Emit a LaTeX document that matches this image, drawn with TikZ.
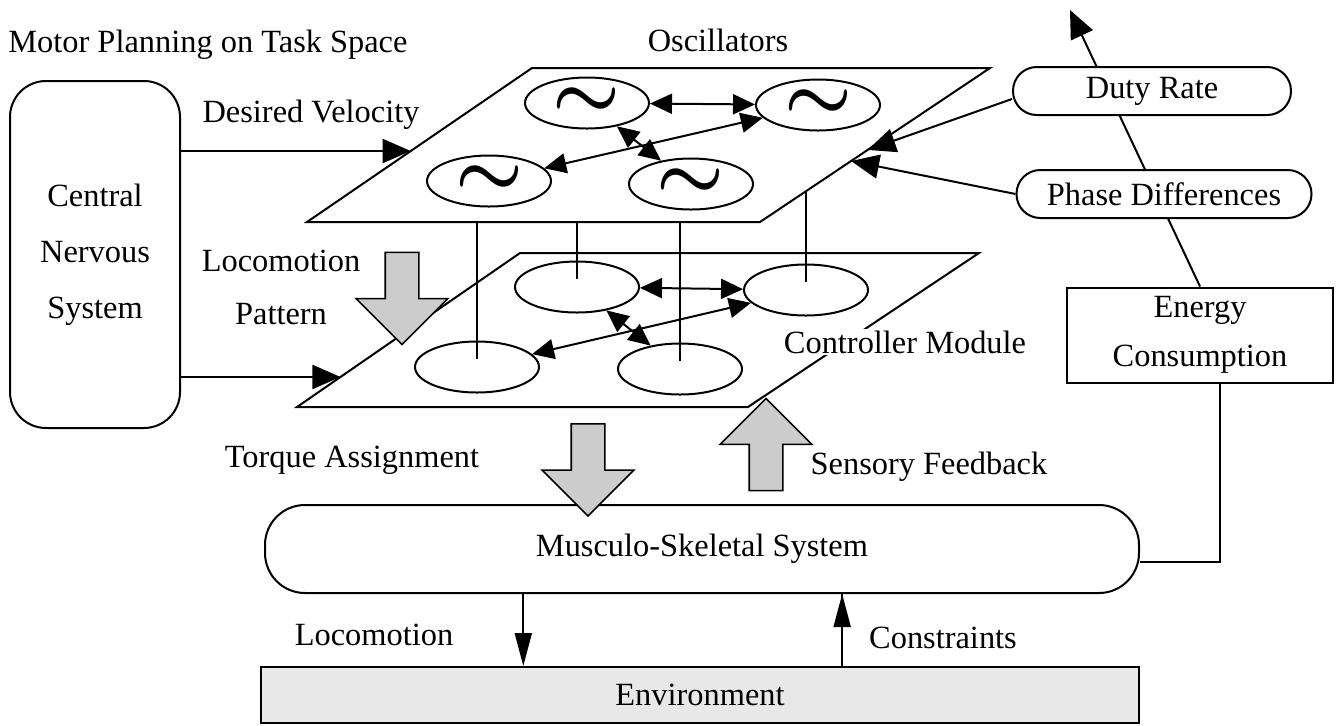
\documentclass[tikz,border=0pt]{standalone}
\usepackage{fontspec}
\setmainfont{Liberation Serif}
\usepackage{graphicx}
\usetikzlibrary{shapes.geometric, shapes.arrows, arrows.meta, calc, backgrounds}
\tikzset{
  box/.style    = {rectangle, draw, line width=1pt, fill=white, inner sep=0pt, align=center},
  pill/.style   = {box, rounded corners=11.9pt, minimum height=24pt},
  osc/.style    = {ellipse, draw, line width=1pt, fill=white, inner sep=0pt,
                   minimum width=62pt, minimum height=25.5pt},
  plane/.style  = {draw, line width=1pt, fill=white, line join=miter},
  fat/.style    = {single arrow, draw, line width=0.8pt, fill=gray!40, inner sep=8pt,
                   minimum height=46pt, single arrow head extend=14.5pt},
  lbl/.style    = {inner sep=1pt},
  link/.style   = {line width=0.7pt},
  arrow/.style  = {line width=1pt, -{Triangle[length=14pt,width=12pt]}},
  darrow/.style = {line width=1pt, {Triangle[length=11pt,width=10pt]}-{Triangle[length=11pt,width=10pt]}},
  larrow/.style = {line width=1pt, -{Triangle[length=16.5pt,width=8.5pt]}},
}
\newcommand{\wave}{\scalebox{2.2}{\boldmath$\sim$}}

\begin{document}
\begin{tikzpicture}[x=0.5pt, y=-0.5pt, every node/.style={font=\fontsize{16.2}{20}\selectfont}]
    \useasboundingbox (0,0) rectangle (1341,725);

    %% Plane corners
    \coordinate (up1) at (532,68);
    \coordinate (up2) at (990,68);
    \coordinate (up3) at (760,222);
    \coordinate (up4) at (307,222);
    \coordinate (lp1) at (520,253);
    \coordinate (lp2) at (979,253);
    \coordinate (lp3) at (748,407);
    \coordinate (lp4) at (297,407);
    \coordinate (mid) at (0,150);

    %% Controller module plane
    \draw[plane] (lp1) -- (lp2) -- (lp3) -- (lp4) -- cycle;
    \node[osc] (lTL) at (577,287) {};
    \node[osc] (lTR) at (806,290) {};
    \node[osc] (lBL) at (477,367) {};
    \node[osc] (lBR) at (680,369) {};
    \foreach \k in {TL,TR,BL,BR}
      \draw[link] (l\k |- mid) -- ($(l\k)+(0,-8)$);
    \draw[darrow] (lTL) -- (lTR);
    \draw[darrow] (lTL) -- (lBR);
    \draw[darrow] (lBL) -- (lTR);

    %% Oscillator plane
    \draw[plane] (up1) -- (up2) -- (up3) -- (up4) -- cycle;
    \node[osc] (uTL) at (587,103) {\wave};
    \node[osc] (uTR) at (818,105) {\wave};
    \node[osc] (uBL) at (489,181) {\wave};
    \node[osc] (uBR) at (691,184) {\wave};
    \draw[darrow] (uTL) -- (uTR);
    \draw[darrow] (uTL) -- (uBR);
    \draw[darrow] (uBL) -- (uTR);

    \node[lbl] (osct) at (718,40) {Oscillators};
    \node[lbl, fill=white] (ctrl) at (905,342) {Controller Module};

    %% Central nervous system
    \node[lbl, anchor=west] (plan) at (6,45) {Motor Planning on Task Space};
    \node[box, rounded corners=18pt, minimum width=85pt, minimum height=173.5pt,
          font=\fontsize{16.2}{28}\selectfont] (cns) at (95,254.5) {Central\\Nervous\\System};
    \coordinate (dv) at ($(up4)!0.461!(up1)$);
    \coordinate (lv) at ($(lp4)!0.195!(lp1)$);
    \draw[arrow] (cns.east |- dv) -- (dv);
    \draw[arrow] (cns.east |- lv) -- (lv);
    \node[lbl] (dvt) at (311,115) {Desired Velocity};
    \node[lbl, align=center, font=\fontsize{16.2}{26.5}\selectfont] (lpt) at (281,287) {Locomotion\\Pattern};
    \node[fat, shape border rotate=270] (lpa) at (402,290) {};

    %% Right side
    \node[pill, minimum width=139pt] (dr) at (1152,91) {Duty Rate};
    \node[pill, minimum width=147.5pt] (pd) at (1164,194) {Phase Differences};
    \node[box, minimum width=133pt, minimum height=47.5pt,
          font=\fontsize{16.2}{24.5}\selectfont] (en) at (1200,335) {Energy\\Consumption};
    \coordinate (out) at (1070,10);
    \begin{scope}[on background layer]
      \draw[arrow] (en.north) -- (out);
    \end{scope}
    \coordinate (dt) at ($(up2)!0.532!(up3)$);
    \coordinate (pt) at ($(up2)!0.604!(up3)$);
    \draw[arrow] ($(dr.west)+(0,8)$) -- (dt);
    \draw[arrow] (pd.west) -- (pt);

    %% Body and environment
    \node[box, rounded corners=20pt, minimum width=437pt, minimum height=44pt] (ms) at (702,549) {Musculo-Skeletal System};
    \node[box, fill=gray!18, minimum width=439pt, minimum height=28pt] (env) at (700,695) {Environment};
    \node[fat, shape border rotate=270] (tqa) at (588,461.5) {};
    \node[fat, shape border rotate=90] (sfa) at (766,453) {};
    \node[lbl] (tqt) at (352,460) {Torque Assignment};
    \node[lbl] (sft) at (929,467) {Sensory Feedback};
    \draw[line width=1pt] ($(ms.east)+(0,13)$) -| ($(en.south)+(20,0)$);

    \draw[larrow] ($(ms.south west)!0.296!(ms.south east)$) coordinate (lo) -- (lo |- env.north);
    \draw[larrow] ($(ms.south west)!0.66!(ms.south east)$) coordinate (co) |- (co |- env.north) -- (co);
    \node[lbl] (lot) at (374,635) {Locomotion};
    \node[lbl] (cot) at (943,638) {Constraints};

  \end{tikzpicture}
\end{document}
